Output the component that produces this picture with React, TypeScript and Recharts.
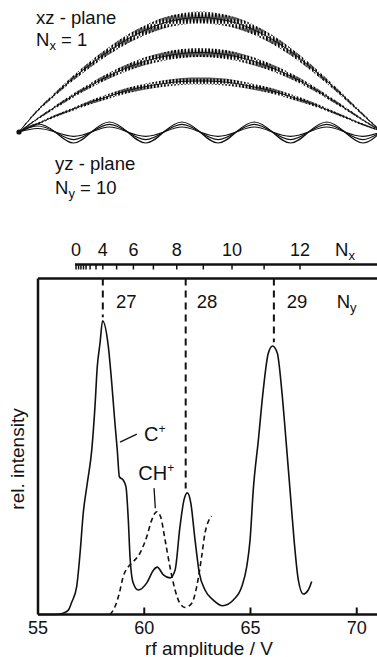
import React from "react";
import {
  ComposedChart,
  LineChart,
  Line,
  Area,
  XAxis,
  YAxis,
  ReferenceLine,
  ReferenceDot,
} from "recharts";

const FONT = "'Liberation Sans', Arial, Helvetica, sans-serif";
const INK = "#111";

// trajectory sketch (top): position along z, deflections
const zPos = [0, 0.5, 1, 1.5, 2, 2.5, 3, 3.5, 4, 4.5, 5, 5.5, 6, 6.5, 7, 7.5, 8, 8.5, 9, 9.5, 10];
const xzOuter = [0, 21, 38, 54, 68.5, 81.5, 93, 102, 109, 113, 114.5, 113, 109, 102, 92.5, 80.5, 66.5, 51, 34.5, 17.5, 0.5];
const xzMid = [0, 13, 25, 36.5, 47, 56.5, 64.5, 71, 75.5, 78.5, 79.5, 78.5, 75.5, 70.5, 64, 56, 46.5, 35.5, 24, 12, 1];
const xzInner = [0, 8, 16, 23, 30, 36, 41.5, 45.5, 48.5, 50.5, 51, 50.5, 48.5, 45, 41, 35.5, 29.5, 22.5, 15, 7.5, 1];
// micromotion half-width around each xz path
const xzOuterRip = [0.5, 1.2, 1.8, 2.5, 3.2, 3.8, 4.4, 5, 5.4, 5.8, 6, 5.8, 5.4, 5, 4.4, 3.8, 3.2, 2.5, 1.8, 1.2, 0.8];
const xzMidRip = [0.5, 1, 1.5, 2, 2.6, 3.1, 3.6, 4, 4.3, 4.5, 4.5, 4.5, 4.3, 4, 3.6, 3.1, 2.6, 2, 1.5, 1, 0.6];
const xzInnerRip = [0.5, 0.9, 1.2, 1.6, 2, 2.4, 2.8, 3.1, 3.3, 3.5, 3.5, 3.5, 3.3, 3.1, 2.8, 2.4, 2, 1.6, 1.2, 0.9, 0.5];
const yzOuter = [0, 8, 0, -11, 0, 10, 0, -11, 0, 10, 0, -11, 0, 10, 0, -11, 0, 10, 0, -11, 0];
const yzMid = [0, 6, 0, -7.6, 0, 7.7, 0, -7.6, 0, 7.7, 0, -7.6, 0, 7.7, 0, -7.6, 0, 7.7, 0, -7.6, 0];
const yzInner = [0, 3.5, 0, -4.3, 0, 5, 0, -4.3, 0, 5, 0, -4.3, 0, 5, 0, -4.3, 0, 5, 0, -4.3, 0];

// spectrum (bottom)
const cPlusV = [55, 55.8, 56.18, 56.43, 56.59, 56.82, 56.98, 57.13, 57.32, 57.53, 57.68, 57.79, 57.92, 58.04, 58.31, 58.47, 58.62, 58.73, 58.83, 59.01, 59.14, 59.25, 59.33, 59.48, 59.72, 60.12, 60.43, 60.61, 60.9, 61.21, 61.45, 61.68, 61.87, 62.03, 62.19, 62.39, 62.59, 62.86, 63.25, 63.69, 64.19, 64.59, 64.82, 64.98, 65.13, 65.37, 65.6, 65.84, 66.04, 66.26, 66.47, 66.67, 66.86, 67.05, 67.25, 67.48, 67.72, 67.88];
const cPlusI = [0, 0, 0.4, 1.3, 3.7, 8.3, 18.3, 30.2, 39.1, 49, 61.8, 73.8, 80.8, 87.4, 79.7, 68.9, 57, 49, 41, 40, 38, 28.1, 17.2, 9.4, 7.3, 9.4, 13.2, 14.1, 11.8, 10.9, 13.2, 26.1, 34.1, 36.2, 33.2, 22.2, 12.4, 7.3, 4.3, 2.6, 4.3, 8.3, 14.2, 22.2, 37.1, 51.9, 66.8, 77.8, 79.9, 77.8, 66.8, 51.9, 37.1, 22.2, 10.3, 6.1, 7.3, 9.8];
const chPlusV = [58.39, 58.62, 58.83, 59.01, 59.25, 59.48, 59.8, 60.12, 60.35, 60.59, 60.77, 60.98, 61.21, 61.45, 61.68, 61.92, 62.23, 62.47, 62.7, 62.86, 63.01, 63.17];
const chPlusI = [0, 2.3, 6.4, 11.3, 14.2, 15.7, 18.3, 23.2, 28.1, 30.6, 29.1, 22.2, 14.2, 7.3, 3.3, 2.1, 3.3, 8.3, 17.2, 24.3, 27.6, 29.3];

const rfTicks = [55, 60, 65, 70];
const nxTickV = [56.79, 56.91, 57.02, 57.14, 57.26, 57.45, 57.73, 58.05, 58.7, 59.49, 60.43, 61.53, 62.78, 64.13, 65.64, 67.33];
const nxTickLabel = ["0", "", "", "", "", "", "", "4", "", "6", "", "8", "", "10", "", "12"];
const nyLineV = [58.05, 61.95, 66.1];
const nyLineEnd = [88.5, 37.5, 81];

const trajRows = zPos.map((z, i) => ({
  z,
  outer: xzOuter[i],
  mid: xzMid[i],
  inner: xzInner[i],
  outerBand: [xzOuter[i] - xzOuterRip[i], xzOuter[i] + xzOuterRip[i]],
  midBand: [xzMid[i] - xzMidRip[i], xzMid[i] + xzMidRip[i]],
  innerBand: [xzInner[i] - xzInnerRip[i], xzInner[i] + xzInnerRip[i]],
  yzO: yzOuter[i],
  yzM: yzMid[i],
  yzI: yzInner[i],
}));

const cPlus = cPlusV.map((v, i) => ({ v, i: cPlusI[i] }));
const chPlus = chPlusV.map((v, i) => ({ v, i: chPlusI[i] }));
// keeps the N_x axis bound to a (hidden) series
const nxRows = nxTickV.map((v) => ({ v, i: 0 }));

const axisStyle = { stroke: INK, strokeWidth: 2.5 };
const NX_GAP = 14; // N_x scale sits above the frame

const RfTick = (props: any) => {
  const { x, y, payload } = props;
  return (
    <g>
      {payload.value !== 55 && (
        <line x1={x} x2={x} y1={y} y2={y - 7} stroke={INK} strokeWidth={2} />
      )}
      <text x={x} y={y + 19.5} textAnchor="middle" fontSize={18} fontFamily={FONT} fill={INK}>
        {payload.value}
      </text>
    </g>
  );
};

const NxTick = (props: any) => {
  const { x, y, payload } = props;
  const k = nxTickV.indexOf(payload.value);
  const label = nxTickLabel[k] || "";
  const ly = y - NX_GAP;
  return (
    <g>
      {k === 0 && <line x1={x - 1} x2={x + 400} y1={ly} y2={ly} stroke={INK} strokeWidth={2.5} />}
      <line x1={x} x2={x} y1={ly} y2={ly + 5} stroke={INK} strokeWidth={1.5} />
      {label && (
        <text x={x} y={ly - 8.5} textAnchor="middle" fontSize={18} fontFamily={FONT} fill={INK}>
          {label}
        </text>
      )}
    </g>
  );
};

const txt = { fontFamily: FONT, fill: INK };

export default function App() {
  return (
    <div
      style={{
        position: "absolute",
        left: 0,
        top: 0,
        width: 377,
        height: 657,
        overflow: "hidden",
        background: "#fff",
      }}
    >
      {/* trajectories */}
      <div style={{ position: "absolute", left: 0, top: 0 }}>
        <ComposedChart width={385} height={160} data={trajRows} margin={{ top: 0, right: 4, bottom: 0, left: 19 }}>
          <defs>
            <pattern id="zig" patternUnits="userSpaceOnUse" width={3.4} height={12}>
              <path d="M0,12 L1.7,0 L3.4,12" fill="none" stroke="#000" strokeWidth={1.15} />
            </pattern>
          </defs>
          <XAxis dataKey="z" type="number" domain={[0, 10]} hide />
          <YAxis domain={[-28, 132]} hide />
          <Area dataKey="outerBand" type="monotone" stroke="none" fill="url(#zig)" fillOpacity={1} isAnimationActive={false} />
          <Area dataKey="midBand" type="monotone" stroke="none" fill="url(#zig)" fillOpacity={1} isAnimationActive={false} />
          <Area dataKey="innerBand" type="monotone" stroke="none" fill="url(#zig)" fillOpacity={1} isAnimationActive={false} />
          <Line dataKey="outer" type="monotone" stroke={INK} strokeWidth={1} dot={false} activeDot={false} isAnimationActive={false} />
          <Line dataKey="mid" type="monotone" stroke={INK} strokeWidth={1} dot={false} activeDot={false} isAnimationActive={false} />
          <Line dataKey="inner" type="monotone" stroke={INK} strokeWidth={1} dot={false} activeDot={false} isAnimationActive={false} />
          <Line dataKey="yzO" type="natural" stroke={INK} strokeWidth={1.2} dot={false} activeDot={false} isAnimationActive={false} />
          <Line dataKey="yzM" type="natural" stroke={INK} strokeWidth={1.2} dot={false} activeDot={false} isAnimationActive={false} />
          <Line dataKey="yzI" type="natural" stroke={INK} strokeWidth={1.2} dot={false} activeDot={false} isAnimationActive={false} />
          <ReferenceDot x={0} y={0} r={2.6} fill={INK} stroke="none" />
        </ComposedChart>
      </div>

      {/* spectrum */}
      <div style={{ position: "absolute", left: 0, top: 220 }}>
        <LineChart width={400} height={437} margin={{ top: 14, right: 0.75, bottom: 0, left: 0 }}>
          <XAxis
            dataKey="v"
            type="number"
            domain={[55, 72]}
            ticks={rfTicks}
            interval={0}
            height={42.5}
            tickSize={0}
            tickMargin={0}
            tickLine={false}
            axisLine={axisStyle}
            tick={RfTick}
            allowDataOverflow
          />
          <XAxis
            xAxisId="nx"
            dataKey="v"
            orientation="top"
            type="number"
            domain={[55, 72]}
            ticks={nxTickV}
            interval={0}
            height={44.5}
            tickSize={0}
            tickMargin={0}
            tickLine={false}
            axisLine={axisStyle}
            tick={NxTick}
            allowDataOverflow
          />
          <YAxis domain={[0, 100]} width={38} tick={false} tickLine={false} axisLine={axisStyle} />
          <Line xAxisId="nx" data={nxRows} dataKey="i" stroke="none" dot={false} activeDot={false} isAnimationActive={false} />
          <Line data={cPlus} dataKey="i" type="monotone" stroke={INK} strokeWidth={1.6} dot={false} activeDot={false} isAnimationActive={false} />
          <Line data={chPlus} dataKey="i" type="monotone" stroke={INK} strokeWidth={1.6} strokeDasharray="5 3.5" dot={false} activeDot={false} isAnimationActive={false} />
          {nyLineV.map((v, k) => (
            <ReferenceLine
              key={k}
              segment={[{ x: v, y: 100 }, { x: v, y: nyLineEnd[k] }]}
              stroke={INK}
              strokeWidth={2}
              strokeDasharray="7 5"
            />
          ))}
          <ReferenceLine segment={[{ x: 58.86, y: 51.3 }, { x: 59.65, y: 53.7 }]} stroke={INK} strokeWidth={1.3} />
          <ReferenceLine segment={[{ x: 60.46, y: 37.6 }, { x: 60.52, y: 31.6 }]} stroke={INK} strokeWidth={1.3} />
        </LineChart>
      </div>

      {/* text */}
      <svg width={377} height={657} style={{ position: "absolute", left: 0, top: 0, pointerEvents: "none" }}>
        <text x={36} y={24} fontSize={18.5} {...txt}>xz - plane</text>
        <text x={36} y={45.5} fontSize={18.5} {...txt}>
          N<tspan fontSize={13} dy={4}>x</tspan><tspan dy={-4}> = 1</tspan>
        </text>
        <text x={55} y={170} fontSize={18.5} {...txt}>yz - plane</text>
        <text x={55} y={194} fontSize={18.5} {...txt}>
          N<tspan fontSize={13} dy={4}>y</tspan><tspan dy={-4}> = 10</tspan>
        </text>

        <text x={335} y={256} fontSize={18.5} {...txt}>
          N<tspan fontSize={13} dy={4}>x</tspan>
        </text>
        <text x={116} y={308} fontSize={18.5} {...txt}>27</text>
        <text x={196.7} y={308} fontSize={18.5} {...txt}>28</text>
        <text x={286.7} y={308} fontSize={18.5} {...txt}>29</text>
        <text x={336.7} y={308} fontSize={18.5} {...txt}>
          N<tspan fontSize={13} dy={4}>y</tspan>
        </text>

        <text x={144} y={440.7} fontSize={20} {...txt}>
          C<tspan fontSize={12} dy={-8}>+</tspan>
        </text>
        <text x={138.3} y={480} fontSize={20} {...txt}>
          CH<tspan fontSize={12} dy={-8}>+</tspan>
        </text>

        <text x={0} y={0} fontSize={19} textAnchor="middle" transform="translate(24 459) rotate(-90)" {...txt}>
          rel. intensity
        </text>
        <text x={209} y={654.5} fontSize={19} textAnchor="middle" {...txt}>rf amplitude / V</text>
      </svg>
    </div>
  );
}
